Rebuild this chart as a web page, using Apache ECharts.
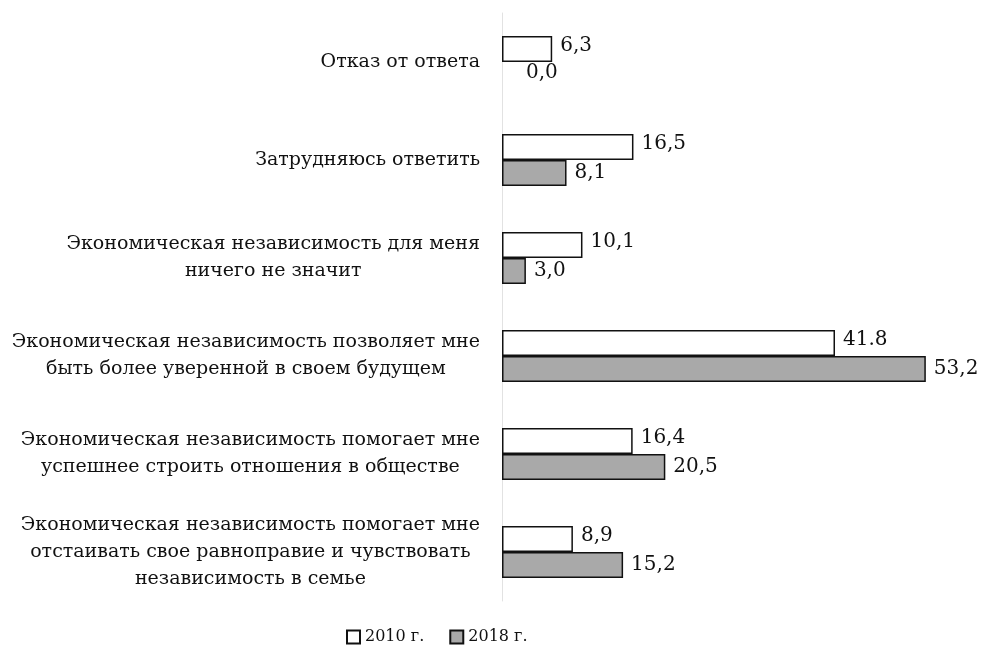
<!DOCTYPE html>
<html>
<head>
<meta charset="utf-8">
<script src="https://cdn.jsdelivr.net/npm/echarts@6/dist/echarts.min.js"></script>
<style>
  html, body { margin: 0; padding: 0; background: #fff; }
  #chart { width: 985px; height: 656px; }
</style>
</head>
<body>
<div id="chart"></div>
<script>
// категории сверху вниз
var categories = [
  'Отказ от ответа',
  'Затрудняюсь ответить',
  'Экономическая независимость для меня\nничего не значит',
  'Экономическая независимость позволяет мне\nбыть более уверенной в своем будущем',
  'Экономическая независимость помогает мне\nуспешнее строить отношения в обществе',
  'Экономическая независимость помогает мне\nотстаивать свое равноправие и чувствовать\nнезависимость в семье'
]
var values2010 = [6.3, 16.5, 10.1, 41.8, 16.4, 8.9]
var values2018 = [0.0, 8.1, 3.0, 53.2, 20.5, 15.2]
var labels2010 = ['6,3', '16,5', '10,1', '41.8', '16,4', '8,9']
var labels2018 = ['0,0', '8,1', '3,0', '53,2', '20,5', '15,2']
var seriesNames = ['2010 г.', '2018 г.']

var chart = echarts.init(document.getElementById('chart'))
var font = 'DejaVu Serif'

var labelStyle = {
  show: true,
  position: 'right',
  distance: 8,
  color: '#111',
  fontFamily: font,
  fontSize: 20
}

var option = {
  backgroundColor: '#fff',
  animation: false,
  textStyle: { fontFamily: font },
  legend: {
    bottom: 6,
    left: 341,
    itemWidth: 13,
    itemHeight: 13,
    itemGap: 25,
    icon: 'rect',
    textStyle: { fontFamily: font, fontSize: 16, color: '#111' },
    data: seriesNames
  },
  grid: {
    left: 502,
    right: 5,
    top: 13,
    bottom: 55
  },
  xAxis: {
    type: 'value',
    min: 0,
    max: 60,
    show: false
  },
  yAxis: {
    type: 'category',
    inverse: true,
    data: categories,
    axisLine: { show: true, lineStyle: { color: '#e2e2e2', width: 1 } },
    axisTick: { show: false },
    axisLabel: {
      margin: 22,
      formatter: function (value) {
        // каждая строка по центру блока
        return value.split('\n').map(function (s) { return '{c|' + s + '}' }).join('\n')
      },
      rich: {
        c: {
          align: 'center',
          fontFamily: font,
          fontSize: 19,
          lineHeight: 27,
          color: '#111'
        }
      }
    }
  },
  series: [
    {
      name: seriesNames[0],
      type: 'bar',
      barWidth: 26,
      barGap: '0%',
      itemStyle: { color: '#ffffff', borderColor: '#111', borderWidth: 1.5 },
      label: Object.assign({}, labelStyle, {
        offset: [0, -3],
        formatter: function (p) { return labels2010[p.dataIndex] }
      }),
      data: values2010
    },
    {
      name: seriesNames[1],
      type: 'bar',
      barWidth: 26,
      barGap: '0%',
      itemStyle: { color: '#a9a9a9', borderColor: '#111', borderWidth: 1.5 },
      label: Object.assign({}, labelStyle, {
        formatter: function (p) { return labels2018[p.dataIndex] }
      }),
      data: values2018.map(function (v, i) {
        // у нулевого значения нет рамки, подпись чуть правее
        if (v === 0) return { value: v, itemStyle: { borderWidth: 0 }, label: { offset: [16, -2] } }
        return v
      })
    }
  ]
}

chart.setOption(option)
</script>
</body>
</html>
